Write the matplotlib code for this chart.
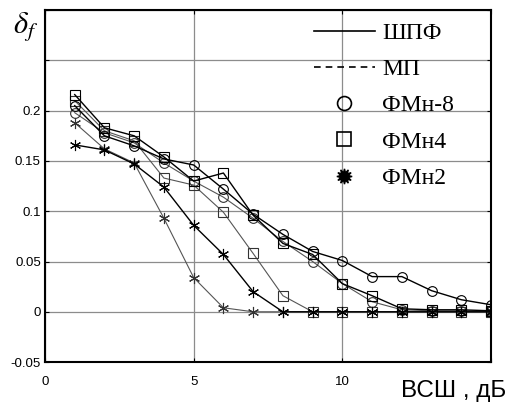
#!/usr/bin/env python3

import numpy as np
import matplotlib
matplotlib.use("Agg")
import matplotlib.pyplot as plt
from matplotlib.lines import Line2D

# SNR, dB
snr = list(range(1, 16))

# ФМн-8
psk8_shpf = [0.205, 0.175, 0.165, 0.152, 0.146, 0.122, 0.097, 0.077, 0.060, 0.051, 0.035, 0.035, 0.021, 0.012, 0.007]
psk8_mp   = [0.198, 0.178, 0.168, 0.148, 0.130, 0.114, 0.093, 0.070, 0.050, 0.028, 0.010, 0.002, 0.001, 0.001, 0.001]
# ФМн4
psk4_shpf = [0.216, 0.183, 0.175, 0.154, 0.130, 0.138, 0.096, 0.068, 0.057, 0.028, 0.016, 0.003, 0.002, 0.002, 0.001]
psk4_mp   = [0.210, 0.180, 0.170, 0.133, 0.126, 0.099, 0.058, 0.016, 0.000, 0.000, 0.000, 0.000, 0.000, 0.000, 0.000]
# ФМн2
psk2_shpf = [0.166, 0.161, 0.147, 0.124, 0.086, 0.057, 0.020, 0.000, 0.000, 0.000, 0.000, 0.000, 0.000, 0.000, 0.000]
psk2_mp   = [0.188, 0.162, 0.148, 0.093, 0.034, 0.004, 0.000, 0.000, 0.000, 0.000, 0.000, 0.000, 0.000, 0.000, 0.000]

legend_labels = ["ШПФ", "МП", "ФМн-8", "ФМн4", "ФМн2"]

fig = plt.figure(figsize=(5.11, 4.05), dpi=100)
ax = fig.add_axes([0.088, 0.106, 0.873, 0.869])

star = (6, 2, 0)
blk = dict(color="black", lw=1.0, mfc="none", mec="black", mew=0.8)
gry = dict(color="#555555", lw=0.8, mfc="none", mec="#333333", mew=0.8)

ax.plot(snr, psk8_mp, marker="o", ms=7, **gry)
ax.plot(snr, psk4_mp, marker="s", ms=7, **gry)
ax.plot(snr, psk2_mp, marker=star, ms=8, **gry)
ax.plot(snr, psk8_shpf, marker="o", ms=7, **blk)
ax.plot(snr, psk4_shpf, marker="s", ms=7, **blk)
ax.plot(snr, psk2_shpf, marker=star, ms=8, **blk)

ax.set_xlim(0, 15)
ax.set_ylim(-0.05, 0.3)
ax.set_xticks([0, 5, 10, 15])
ax.set_xticklabels(["0", "5", "10", ""])
ax.set_yticks([-0.05, 0, 0.05, 0.1, 0.15, 0.2, 0.25, 0.3])
ax.set_yticklabels(["-0.05", "0", "0.05", "0.1", "0.15", "0.2", "", ""])
ax.grid(True, color="#8c8c8c", lw=0.9)
ax.tick_params(direction="in", top=True, right=True, length=3, width=0.8,
               labelsize=9.5, pad=3)
ax.tick_params(axis="x", pad=10)
for lab in ax.get_xticklabels() + ax.get_yticklabels():
    lab.set_family("Liberation Sans")
for sp in ax.spines.values():
    sp.set_linewidth(1.5)

handles = [
    Line2D([], [], color="black", lw=1.2),
    Line2D([], [], color="black", lw=1.2, ls=(0, (4, 3))),
    Line2D([], [], ls="none", marker="o", ms=10, mfc="none", mec="black", mew=1.2),
    Line2D([], [], ls="none", marker="s", ms=10, mfc="none", mec="black", mew=1.2),
    Line2D([], [], ls="none", marker=(12, 1, 0), ms=11, color="black"),
]
ax.legend(handles, legend_labels, loc="upper left", bbox_to_anchor=(0.555, 1.025),
          frameon=False, handlelength=2.6, handletextpad=0.3, labelspacing=0.62,
          prop={"family": "Liberation Serif", "size": 17})

fig.text(0.025, 0.935, r"$\delta_f$", fontsize=22, ha="left", va="center",
         math_fontfamily="stix")
fig.text(0.99, 0.035, "ВСШ , дБ", fontsize=17.5, ha="right", va="center",
         family="Liberation Sans")

fig.savefig("out.png", dpi=100)
